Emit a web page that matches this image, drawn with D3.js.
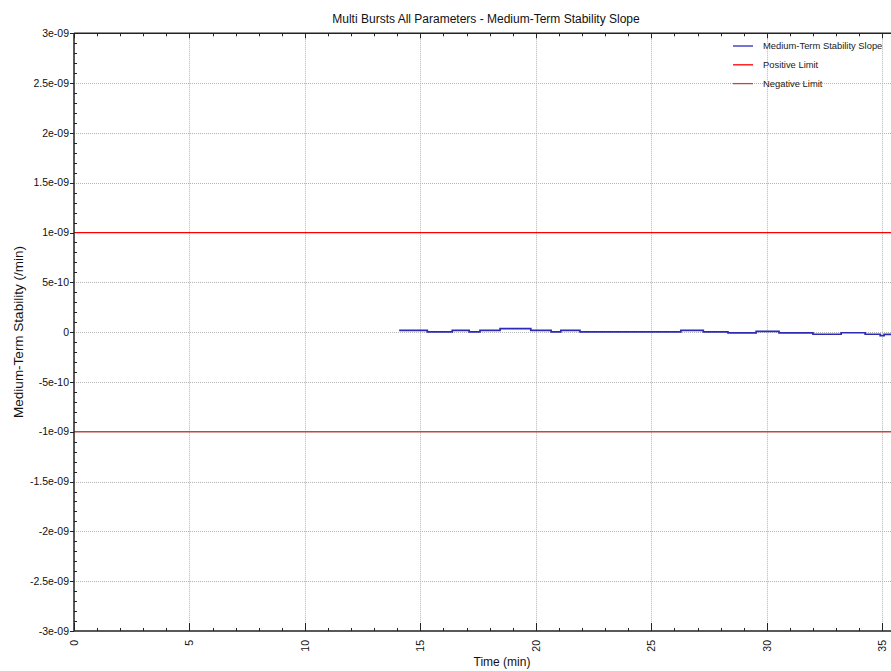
<!DOCTYPE html>
<html>
<head>
<meta charset="utf-8">
<script src="https://cdn.jsdelivr.net/npm/d3@7"></script>
<style>
  html, body { margin: 0; padding: 0; background: #fff; }
  svg { display: block; font-family: "Liberation Sans", Arial, sans-serif; }
</style>
</head>
<body>
<svg id="chart" width="891" height="671"></svg>
<script>
// ---- data ----
const titleText = "Multi Bursts All Parameters - Medium-Term Stability Slope";
const xLabel = "Time (min)";
const yLabel = "Medium-Term Stability (/min)";
const xTicks = [0, 5, 10, 15, 20, 25, 30, 35];
const yTicks = [-3e-9, -2.5e-9, -2e-9, -1.5e-9, -1e-9, -5e-10, 0, 5e-10, 1e-9, 1.5e-9, 2e-9, 2.5e-9, 3e-9];
const yTickLabels = ["-3e-09", "-2.5e-09", "-2e-09", "-1.5e-09", "-1e-09", "-5e-10", "0", "5e-10", "1e-09", "1.5e-09", "2e-09", "2.5e-09", "3e-09"];
const slopeTimes = [14.08, 15.30, 16.38, 17.11, 17.58, 18.45, 19.78, 20.66, 21.08, 21.91, 26.28, 27.25, 28.32, 29.54, 30.53, 32.0, 33.22, 34.26, 34.91, 35.08, 35.4];
const slopeValues = [1.7e-11, 0.2e-11, 1.7e-11, 0.2e-11, 1.7e-11, 3.5e-11, 1.7e-11, 0.2e-11, 1.7e-11, 0.2e-11, 1.7e-11, 0.2e-11, -0.8e-11, 0.7e-11, -0.8e-11, -2.1e-11, -0.6e-11, -2.1e-11, -3.5e-11, -2.3e-11, -2.3e-11];
const positiveLimit = 1e-9;
const negativeLimit = -1e-9;
const legendNames = ["Medium-Term Stability Slope", "Positive Limit", "Negative Limit"];
const xDomain = [0, 35.4];
const yDomain = [-3e-9, 3e-9];

(function () {
// ---- layout ----
const svg = d3.select("#chart");
const pL = 74, pT = 33.3, pB = 631, pR = 891.5;
const x = d3.scaleLinear().domain(xDomain).range([pL, pR]);
const y = d3.scaleLinear().domain(yDomain).range([pB, pT]);
const colors = ["#2b2bb8", "#ff0000", "#b84a48"];

svg.append("rect").attr("width", 891).attr("height", 671).attr("fill", "#fff");

// grid
const grid = svg.append("g").attr("stroke", "#b4b4b4").attr("stroke-width", 1).attr("stroke-dasharray", "1,1");
xTicks.filter(d => d > 0).forEach(d => {
  grid.append("line").attr("x1", Math.round(x(d)) + 0.5).attr("x2", Math.round(x(d)) + 0.5)
    .attr("y1", pT).attr("y2", pB);
});
yTicks.filter(d => d > yDomain[0] && d < yDomain[1] && d !== positiveLimit && d !== negativeLimit).forEach(d => {
  grid.append("line").attr("y1", Math.round(y(d)) + 0.5).attr("y2", Math.round(y(d)) + 0.5)
    .attr("x1", pL).attr("x2", 891);
});

// data line
const pts = slopeTimes.map((t, i) => [t, slopeValues[i]]);
const line = d3.line().x(d => x(d[0])).y(d => y(d[1])).curve(d3.curveStepAfter);
svg.append("path").attr("d", line(pts)).attr("fill", "none")
  .attr("stroke", colors[0]).attr("stroke-width", 1.7);

// limits
svg.append("line").attr("x1", pL).attr("x2", 891)
  .attr("y1", y(positiveLimit)).attr("y2", y(positiveLimit))
  .attr("stroke", colors[1]).attr("stroke-width", 1.2);
svg.append("line").attr("x1", pL).attr("x2", 891)
  .attr("y1", y(negativeLimit)).attr("y2", y(negativeLimit))
  .attr("stroke", colors[2]).attr("stroke-width", 1.3);

// axes
const xMinor = d3.range(0, 36, 1);
const yMinor = d3.range(-30, 31, 1).map(d => d * 1e-10);
const axG = svg.append("g").attr("stroke", "#222");
axG.append("line").attr("x1", pL).attr("x2", 891).attr("y1", pB).attr("y2", pB).attr("stroke-width", 1.5);
axG.append("line").attr("x1", pL).attr("x2", 891).attr("y1", pT).attr("y2", pT).attr("stroke-width", 1.5);
axG.append("line").attr("x1", pL).attr("x2", pL).attr("y1", pT).attr("y2", pB).attr("stroke-width", 1.5);

xMinor.forEach(d => {
  const major = d % 5 === 0;
  const px = Math.round(x(d)) + 0.5;
  axG.append("line").attr("x1", px).attr("x2", px).attr("y1", pB).attr("y2", pB - (major ? 8 : 3)).attr("stroke-width", 1);
  axG.append("line").attr("x1", px).attr("x2", px).attr("y1", pT).attr("y2", pT + (major ? 5 : 3)).attr("stroke-width", 1);
});
yMinor.forEach((d, i) => {
  const major = i % 5 === 0;
  const py = Math.round(y(d)) + 0.5;
  if (major) {
    axG.append("line").attr("x1", pL - 4).attr("x2", pL).attr("y1", py).attr("y2", py).attr("stroke-width", 1);
  } else {
    axG.append("line").attr("x1", pL).attr("x2", pL + 3).attr("y1", py).attr("y2", py).attr("stroke-width", 1);
  }
});

// tick labels
const tickFont = 10.5;
svg.append("g").selectAll("text").data(xTicks).join("text")
  .attr("transform", d => `translate(${x(d) + 4},640) rotate(-90)`)
  .attr("text-anchor", "end")
  .attr("font-size", tickFont).attr("fill", "#111")
  .text(d => d);
svg.append("g").selectAll("text").data(yTicks).join("text")
  .attr("x", 69).attr("y", d => y(d)).attr("dy", "0.35em")
  .attr("text-anchor", "end")
  .attr("font-size", tickFont).attr("fill", "#111")
  .text((d, i) => yTickLabels[i]);

// titles
svg.append("text").attr("x", 486).attr("y", 23).attr("text-anchor", "middle")
  .attr("font-size", 12).attr("fill", "#111").text(titleText);
svg.append("text").attr("x", 502).attr("y", 666).attr("text-anchor", "middle")
  .attr("font-size", 12).attr("fill", "#111").text(xLabel);
svg.append("text").attr("transform", "translate(23,332) rotate(-90)").attr("text-anchor", "middle")
  .attr("font-size", 13.5).attr("fill", "#111").text(yLabel);

// legend
const lg = svg.append("g");
legendNames.forEach((name, i) => {
  const ly = 46 + i * 18.8;
  lg.append("line").attr("x1", 733).attr("x2", 753).attr("y1", ly).attr("y2", ly)
    .attr("stroke", colors[i]).attr("stroke-width", 1.3);
  lg.append("text").attr("x", 763).attr("y", ly).attr("dy", "0.35em")
    .attr("font-size", 9.4).attr("fill", "#222").text(name);
});
})();
</script>
</body>
</html>
